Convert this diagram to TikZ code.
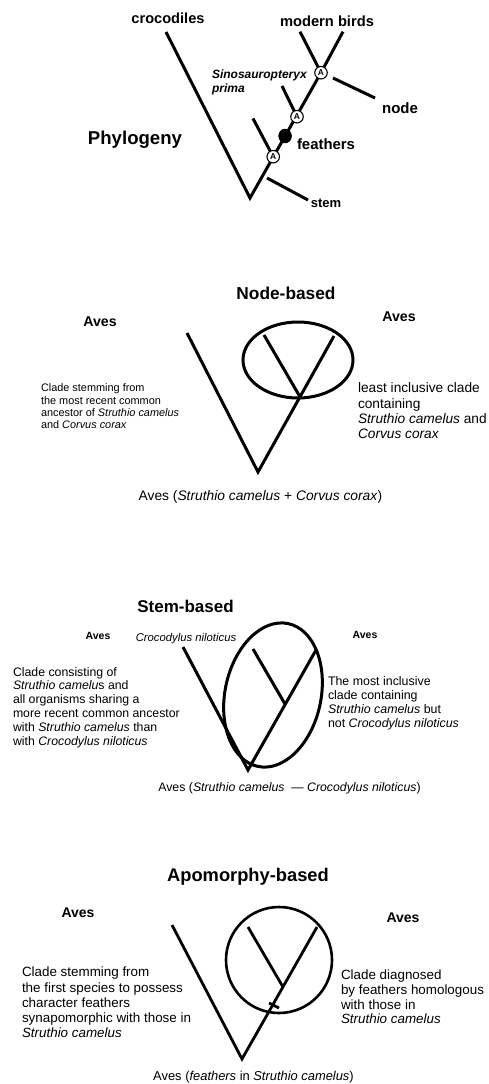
\documentclass[tikz,border=0pt]{standalone}
\usepackage{fontspec}
\setmainfont{Liberation Sans}
\usetikzlibrary{shapes.geometric}
\begin{document}
\begin{tikzpicture}[x=1pt,y=-1pt,
  every node/.style={inner sep=0pt, outer sep=0pt, text=black},
  tree/.style={line width=3pt, line join=miter},
  thin tree/.style={line width=2.8pt, line join=miter},
  anode/.style={circle, draw, fill=white, line width=1.1pt, minimum size=12.5pt,
    font=\fontsize{8.5}{8.5}\selectfont\bfseries},
  fdot/.style={ellipse, fill=black, minimum width=13.5pt, minimum height=14.5pt},
  title/.style={font=\fontsize{#1}{#1}\selectfont\bfseries},
  plain/.style={font=\fontsize{#1}{#1}\selectfont},
  block/.style n args={2}{font=\fontsize{#1}{#2}\selectfont, align=left, anchor=west}
]
\useasboundingbox (0,0) rectangle (489,1084);
\fill[white] (0,0) rectangle (489,1084);

%% ---------------- Phylogeny ----------------
\coordinate (crotop) at (166,32);
\coordinate (base0) at (250,198);
\coordinate (a1) at (273.2,156.7);
\coordinate (fd) at (285.1,136);
\coordinate (a2) at (297,116.7);
\coordinate (a3) at (321,72.7);
\coordinate (mbl) at (300,31.7);
\coordinate (mbr) at (343,31.7);
\coordinate (b1) at (253,118.5);
\coordinate (b2) at (282,86);
\coordinate (nls) at (333,78);
\coordinate (nle) at (375,98);
\coordinate (sls) at (267,178);
\coordinate (sle) at (308,200);

\draw[tree] (crotop) -- (base0) -- (a3) -- (mbr);
\draw[tree] (b1) -- (a1);
\draw[tree] (b2) -- (a2);
\draw[tree] (mbl) -- (a3);
\draw[tree] (nls) -- (nle);
\draw[tree] (sls) -- (sle);

\node[anode] (A1) at (a1) {A};
\node[fdot] (F) at (fd) {};
\node[anode] (A2) at (a2) {A};
\node[anode] (A3) at (a3) {A};

\node[title=14.6] (crocs) at (168,18) {crocodiles};
\node[title=14.7] (mbirds) at (327,21) {modern birds};
\node[title=18.6] (phylo) at (135,140) {Phylogeny};
\node[title=15] (nodelbl) at (400,108) {node};
\node[title=14.9] (feat) at (326,144) {feathers};
\node[title=13] (stemlbl) at (326,203) {stem};
\node[font=\fontsize{12}{14}\selectfont\bfseries\itshape, align=left, anchor=west] (sino) at (212,82) {Sinosauropteryx\\prima};

%% ---------------- Node-based ----------------
\node[title=17.3] (nbt) at (286,293.5) {Node-based};
\node[title=14.2] (nbav1) at (100,322) {Aves};
\node[title=14.2] (nbav2) at (399,317) {Aves};
\coordinate (nl) at (187,333);
\coordinate (nb) at (258,472);
\coordinate (nr) at (334,336);
\coordinate (ni) at (264,335);
\coordinate (nj) at (299.5,396);
\draw[tree] (nl) -- (nb) -- (nr);
\draw[tree] (ni) -- (nj);
\draw[tree] (298,360) ellipse [x radius=55pt, y radius=38pt];
\node[block={10.9}{12.3}] (nbleft) at (41,406.5)
  {Clade stemming from\\the most recent common\\ancestor of \textit{Struthio camelus}\\and \textit{Corvus corax}};
\node[block={13.7}{15.3}] (nbright) at (358,411)
  {least inclusive clade\\containing\\\textit{Struthio camelus} and\\\textit{Corvus corax}};
\node[plain=13.8] (nbcap) at (260.5,497)
  {Aves (\textit{Struthio camelus} + \textit{Corvus corax})};

%% ---------------- Stem-based ----------------
\node[title=17] (sbt) at (185.5,606.5) {Stem-based};
\node[title=10.5] (sbav1) at (98,636) {Aves};
\node[title=10.5] (sbav2) at (365,635) {Aves};
\node[font=\fontsize{11.3}{11.3}\selectfont\itshape] (croc) at (186,639) {Crocodylus niloticus};
\coordinate (sl) at (183,647);
\coordinate (sb) at (248,770);
\coordinate (sr) at (316,650);
\coordinate (si) at (253,649);
\coordinate (sj) at (285,704);
\draw[tree] (sl) -- (sb) -- (sr);
\draw[tree] (si) -- (sj);
\draw[tree, rotate around={-12:(273,695)}] (273,695) ellipse [x radius=48pt, y radius=73pt];
\node[block={12.3}{13.8}] (sbleft) at (13,707.5)
  {Clade consisting of\\\textit{Struthio camelu}s and\\all organisms sharing a\\more recent common ancestor\\with \textit{Struthio camelus} than\\with \textit{Crocodylus niloticus}};
\node[block={12.4}{14}] (sbright) at (328,703)
  {The most inclusive\\clade containing\\\textit{Struthio camelus} but\\not \textit{Crocodylus niloticus}};
\node[plain=12.3] (sbcap) at (289.5,788)
  {Aves (\textit{Struthio camelus}~~— \textit{Crocodylus niloticus})};

%% ---------------- Apomorphy-based ----------------
\node[title=18.3] (abt) at (248,877) {Apomorphy-based};
\node[title=14] (abav1) at (78,913) {Aves};
\node[title=14] (abav2) at (403,918) {Aves};
\coordinate (al) at (172,925);
\coordinate (ab) at (242,1059);
\coordinate (ar) at (317,927);
\coordinate (ai) at (248,927);
\coordinate (aj) at (283,987);
\coordinate (t1) at (269,1003);
\coordinate (t2) at (279,1008);
\draw[thin tree] (al) -- (ab) -- (ar);
\draw[thin tree] (ai) -- (aj);
\draw[thin tree] (t1) -- (t2);
\draw[line width=2.6pt] (279,960) circle [radius=53pt];
\node[block={13.4}{15.3}] (ableft) at (22,1002.5)
  {Clade stemming from\\the first species to possess\\character feathers\\synapomorphic with those in\\\textit{Struthio camelus}};
\node[block={13.4}{14.7}] (abright) at (341,997)
  {Clade diagnosed\\by feathers homologous\\with those in\\\textit{Struthio camelus}};
\node[plain=12.9] (abcap) at (253.5,1077)
  {Aves (\textit{feathers} in \textit{Struthio camelus})};
\end{tikzpicture}
\end{document}
